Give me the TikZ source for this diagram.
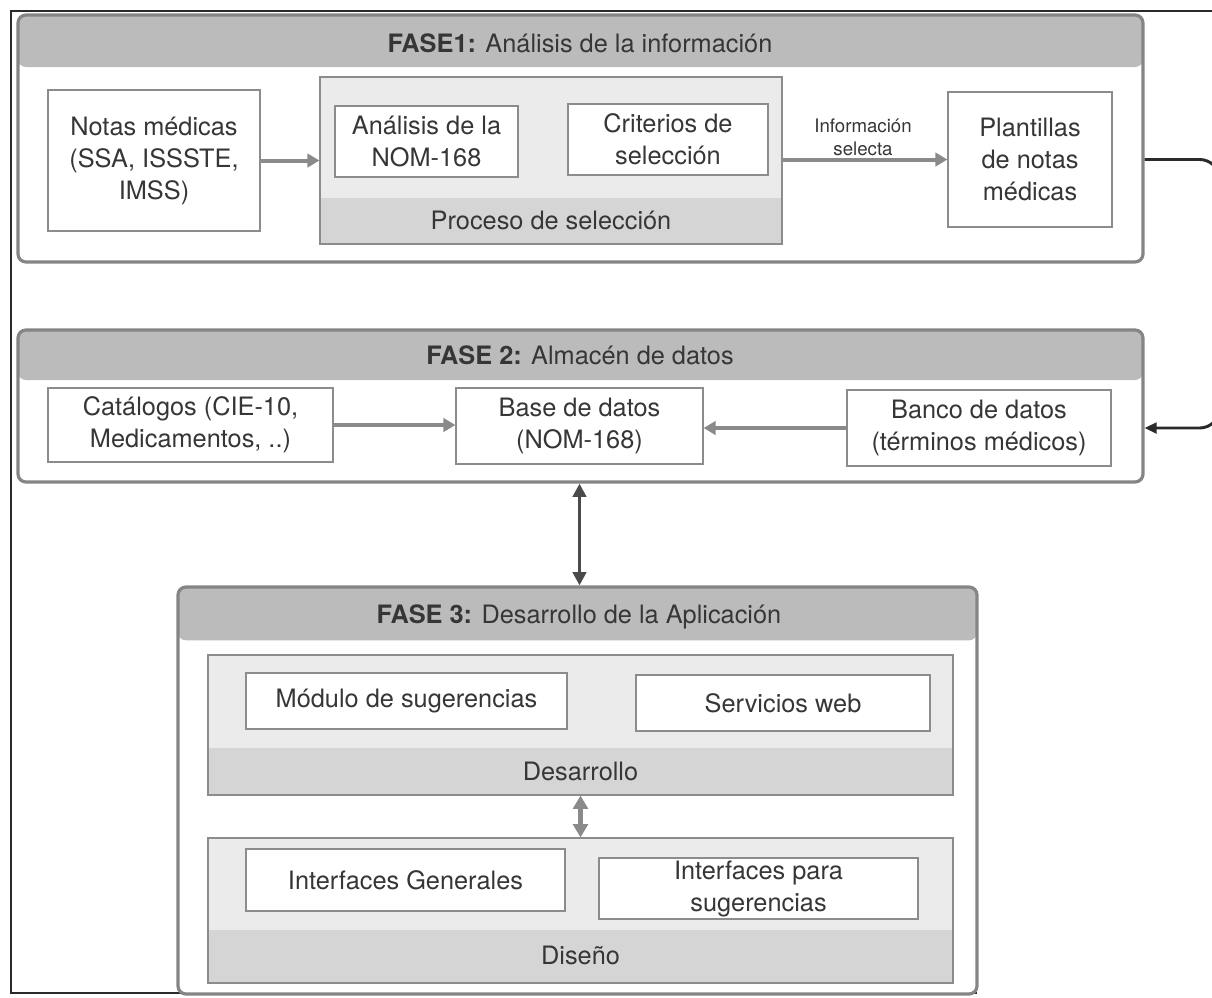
\documentclass[tikz,border=0pt]{standalone}
\usepackage{fontspec}
\setmainfont{TeX Gyre Heros}
\usetikzlibrary{arrows.meta}

\definecolor{ink}{HTML}{363636}
\definecolor{frameline}{HTML}{2A2A2A}
\definecolor{phaseline}{HTML}{858585}
\definecolor{headfill}{HTML}{BBBBBB}
\definecolor{boxline}{HTML}{8C8C8C}
\definecolor{groupfill}{HTML}{EBEBEB}
\definecolor{bandfill}{HTML}{D5D5D5}
\definecolor{arrowgray}{HTML}{8A8A8A}
\definecolor{arrowdark}{HTML}{4A4A4A}

\begin{document}
\begin{tikzpicture}[x=0.75pt,y=-0.75pt,
  txt/.style={font=\fontsize{19}{24}\selectfont, text=ink, align=center, inner sep=0pt},
  sz/.style 2 args={minimum width=#1*0.75pt, minimum height=#2*0.75pt},
  phase/.style={draw=phaseline, line width=2.4pt, fill=white, rounded corners=6pt,
    inner sep=0pt,
    path picture={\fill[headfill] ([yshift=2pt]path picture bounding box.north west)
      rectangle ([yshift=-#1]path picture bounding box.north east);}},
  group/.style={draw=boxline, line width=0.8pt, fill=groupfill, inner sep=0pt,
    path picture={\fill[bandfill] (path picture bounding box.south west)
      rectangle ([yshift=#1]path picture bounding box.south east);}},
  box/.style={txt, draw=boxline, line width=0.9pt, fill=white},
  title/.style={txt},
  small/.style={font=\fontsize{14}{17}\selectfont, text=ink, align=center, inner sep=0pt},
  garrow/.style={draw=arrowgray, line width=3pt, -{Triangle[length=9pt,width=10pt]}},
  gboth/.style={draw=arrowgray, line width=3.4pt, {Triangle[length=10pt,width=11pt]}-{Triangle[length=10pt,width=11pt]}},
  dboth/.style={draw=arrowdark, line width=2.8pt, {Triangle[length=10pt,width=10pt]}-{Triangle[length=10pt,width=10pt]}},
  darrow/.style={draw=frameline, line width=2.2pt, rounded corners=15pt, -{Triangle[length=9pt,width=8pt]}}
]
\useasboundingbox (0,0) rectangle (1212,997);

% outer frame
\draw[frameline, line width=1.3pt] (1216,11) -- (11,11) -- (11,993) -- (977,993);

% ---------------- FASE 1 ----------------
\node[phase=39pt, sz={1125}{247}] (f1) at (580.5,138.5) {};
\node[title] (t1) at (580,43) {\textbf{FASE1:} Análisis de la información};

\node[box, sz={212}{141}] (notas) at (154,160.5) {Notas médicas\\(SSA, ISSSTE,\\IMSS)};
\node[group=34.5pt, sz={462}{167}] (proc) at (551,160.5) {};
\node[box, sz={183}{71}] (nom) at (426.5,141.5) {Análisis de la\\NOM-168};
\node[box, sz={200}{71}] (crit) at (668,139.5) {Criterios de\\selección};
\node[txt] (procl) at (551,220) {Proceso de selección};
\node[box, sz={164}{135}] (plant) at (1030,159.5) {Plantillas\\de notas\\médicas};

\draw[garrow] (notas.east) -- (notas.east -| proc.west);
\draw[garrow] (proc.east |- plant) -- (plant.west);
\node[small] (info) at (863,137) {Información\\selecta};

% ---------------- FASE 2 ----------------
\node[phase=37.5pt, sz={1125}{152}] (f2) at (580.5,406) {};
\node[title] (t2) at (580,355) {\textbf{FASE 2:} Almacén de datos};

\node[box, sz={285}{74}] (cat) at (190.5,425) {Catálogos (CIE-10,\\Medicamentos, ..)};
\node[box, sz={247}{76}] (base) at (579.5,426) {Base de datos\\(NOM-168)};
\node[box, sz={264}{76}] (banco) at (979,428) {Banco de datos\\(términos médicos)};

\draw[garrow] (cat.east) -- (cat.east -| base.west);
\draw[garrow] (banco.west) -- (banco.west -| base.east);

% templates feed the term bank
\draw[darrow] (plant.east -| f1.east) -- ++(75,0) |- (banco.east -| f2.east);

% ---------------- FASE 3 ----------------
\node[phase=40pt, sz={799}{407}] (f3) at (577.5,790.5) {};
\node[title] (t3) at (579,617) {\textbf{FASE 3:} Desarrollo de la Aplicación};

\node[group=35pt, sz={745}{140}] (dev) at (580.5,725) {};
\node[box, sz={321}{56}] (mod) at (406.5,701) {Módulo de sugerencias};
\node[box, sz={294}{56}] (ws) at (783,703) {Servicios web};
\node[txt] (devl) at (580.5,771) {Desarrollo};

\node[group=40pt, sz={745}{145}] (dis) at (580.5,910.5) {};
\node[box, sz={319}{62}] (ig) at (405.5,880) {Interfaces Generales};
\node[box, sz={319}{61}] (is) at (758.5,888.5) {Interfaces para\\sugerencias};
\node[txt] (disl) at (580.5,955) {Diseño};

\draw[dboth] (base |- f2.south) -- (base |- f3.north);
\draw[gboth] (dev.south) -- (dis.north);
\end{tikzpicture}
\end{document}
